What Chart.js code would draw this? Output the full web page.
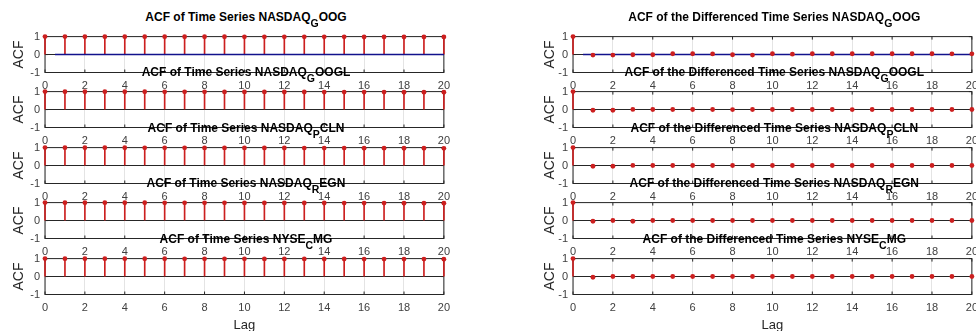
<!DOCTYPE html>
<html lang="en">
<head>
    <meta charset="UTF-8">
    <title>ACF of Time Series</title>
    <script src="https://cdn.jsdelivr.net/npm/chart.js"></script>
    <style>
        body { margin: 0; background: #fff; width: 976px; height: 331px; overflow: hidden; position: relative;
               font-family: "Liberation Sans", Arial, sans-serif; }
        canvas { position: absolute; }
        .title { position: absolute; font-weight: bold; font-size: 12px; line-height: 14px; color: #000;
                 text-align: center; white-space: nowrap; }
        .title .sub { position: relative; top: 6px; font-size: 10.5px; }
    </style>
</head>
<body>
<script>
    // lags and ticks
    var lags = [0, 1, 2, 3, 4, 5, 6, 7, 8, 9, 10, 11, 12, 13, 14, 15, 16, 17, 18, 19, 20];
    var xTicks = [0, 2, 4, 6, 8, 10, 12, 14, 16, 18, 20];
    var yTicks = [-1, 0, 1];
    var seriesNames = ['NASDAQ_GOOG', 'NASDAQ_GOOGL', 'NASDAQ_PCLN', 'NASDAQ_REGN', 'NYSE_CMG'];

    // ACF of the price series (left column)
    var acfGOOG  = [1.000, 0.999, 0.998, 0.997, 0.996, 0.995, 0.994, 0.993, 0.992, 0.991, 0.990, 0.989, 0.988, 0.987, 0.986, 0.985, 0.984, 0.983, 0.982, 0.981, 0.980];
    var acfGOOGL = [1.000, 0.998, 0.996, 0.995, 0.993, 0.991, 0.989, 0.988, 0.986, 0.984, 0.983, 0.981, 0.979, 0.978, 0.976, 0.974, 0.973, 0.971, 0.969, 0.968, 0.966];
    var acfPCLN  = [1.000, 0.998, 0.996, 0.994, 0.992, 0.990, 0.988, 0.986, 0.984, 0.982, 0.980, 0.978, 0.977, 0.975, 0.973, 0.971, 0.969, 0.967, 0.965, 0.963, 0.961];
    var acfREGN  = [1.000, 0.998, 0.997, 0.995, 0.993, 0.992, 0.990, 0.988, 0.987, 0.985, 0.983, 0.982, 0.980, 0.978, 0.977, 0.975, 0.973, 0.972, 0.970, 0.968, 0.967];
    var acfCMG   = [1.000, 0.998, 0.997, 0.995, 0.994, 0.992, 0.991, 0.989, 0.988, 0.986, 0.985, 0.983, 0.982, 0.980, 0.979, 0.977, 0.976, 0.974, 0.973, 0.971, 0.970];

    // ACF of the differenced series (right column)
    var dacfGOOG  = [1.000, -0.030, -0.030, -0.010, -0.010, 0.045, 0.045, 0.035, -0.010, -0.030, 0.045, 0.020, 0.045, 0.045, 0.045, 0.045, 0.045, 0.045, 0.045, 0.040, 0.040];
    var dacfGOOGL = [1.000, -0.040, -0.040, 0.005, 0.003, 0.004, 0.002, 0.003, 0.001, 0.004, 0.002, 0.003, 0.004, 0.002, 0.001, 0.003, 0.002, 0.004, 0.003, 0.002, 0.003];
    var dacfPCLN  = [1.000, -0.040, -0.040, 0.006, 0.004, 0.003, 0.002, 0.004, 0.003, 0.002, 0.004, 0.002, 0.003, 0.004, 0.002, 0.003, 0.002, 0.003, 0.004, 0.002, 0.003];
    var dacfREGN  = [1.000, -0.040, 0.002, -0.040, 0.004, 0.003, 0.002, 0.004, 0.003, 0.002, 0.003, 0.002, 0.004, 0.003, 0.002, 0.003, 0.004, 0.002, 0.003, 0.002, 0.003];
    var dacfCMG   = [1.000, -0.040, 0.003, 0.002, 0.004, 0.003, 0.002, 0.003, 0.004, 0.002, 0.003, 0.002, 0.003, 0.004, 0.002, 0.003, 0.002, 0.003, 0.004, 0.002, 0.003];

    // confidence bounds, only drawn on the first row
    var boundLags = [0.5, 20];
    var boundsGOOG = [0.012, -0.012];
    var boundsDiffGOOG = [0.012, -0.012];

    var leftSeries = [acfGOOG, acfGOOGL, acfPCLN, acfREGN, acfCMG];
    var rightSeries = [dacfGOOG, dacfGOOGL, dacfPCLN, dacfREGN, dacfCMG];

    // layout of the subplot grid
    var rowTops = [32.7, 88.15, 143.6, 199.05, 254.5];
    var plotH = 39.5, plotW = 402;
    var columns = [
        { left: 45, yW: 45, titlePad: 10.5, prefix: 'ACF of Time Series ' },
        { left: 573.3, yW: 40, titlePad: 9, prefix: 'ACF of the Differenced Time Series ' }
    ];

    var stemRed = '#cc1f1f';
    var tickColor = '#404040';
    var gridColor = '#e4e4e4';
    var axisColor = '#262626';

    // box round the axes plus small inward tick marks, as matlab draws them
    var boxPlugin = {
        id: 'box',
        beforeDatasetsDraw: function (chart) {
            var a = chart.chartArea, ctx = chart.ctx;
            var xs = chart.scales.x, ys = chart.scales.y;
            ctx.save();
            ctx.strokeStyle = axisColor;
            ctx.lineWidth = 1;
            ctx.strokeRect(a.left, a.top, a.right - a.left, a.bottom - a.top);
            ctx.beginPath();
            xTicks.forEach(function (v) {
                var px = xs.getPixelForValue(v);
                ctx.moveTo(px, a.bottom); ctx.lineTo(px, a.bottom - 3);
                ctx.moveTo(px, a.top); ctx.lineTo(px, a.top + 3);
            });
            yTicks.forEach(function (v) {
                var py = ys.getPixelForValue(v);
                ctx.moveTo(a.left, py); ctx.lineTo(a.left + 3, py);
                ctx.moveTo(a.right, py); ctx.lineTo(a.right - 3, py);
            });
            ctx.stroke();
            ctx.restore();
        }
    };

    function makeTitle(col, row, name) {
        var parts = name.split('_');
        var div = document.createElement('div');
        div.className = 'title';
        div.style.left = col.left + 'px';
        div.style.width = plotW + 'px';
        div.style.top = (rowTops[row] - 23) + 'px';
        div.innerHTML = col.prefix + parts[0] + '<span class="sub">' + parts[1].charAt(0) + '</span>' + parts[1].slice(1);
        return div;
    }

    function makeAcfChart(col, row, values, bounds) {
        var lastRow = row === rowTops.length - 1;
        var xH = lastRow ? 38.5 : 22.5;
        var padTop = 8;
        var canvas = document.createElement('canvas');
        canvas.width = col.yW + plotW + 10;
        canvas.height = padTop + plotH + xH;
        canvas.style.left = (col.left - col.yW) + 'px';
        canvas.style.top = (rowTops[row] - padTop) + 'px';
        document.body.appendChild(canvas);

        var points = lags.map(function (lag, i) { return { x: lag, y: values[i] }; });
        var datasets = [
            { type: 'bar', data: points, backgroundColor: stemRed, barThickness: 1, clip: false, order: 3 },
            { type: 'scatter', data: points, pointRadius: 2.4, pointBackgroundColor: stemRed,
              pointBorderWidth: 0, clip: false, order: 1 }
        ];
        if (bounds) {
            bounds.forEach(function (b) {
                datasets.push({
                    type: 'line', data: boundLags.map(function (l) { return { x: l, y: b }; }),
                    borderColor: '#12128c', borderWidth: 1.2, pointRadius: 0, clip: false, order: 2
                });
            });
        }

        new Chart(canvas.getContext('2d'), {
            type: 'scatter',
            data: { datasets: datasets },
            plugins: [boxPlugin],
            options: {
                responsive: false,
                animation: false,
                layout: { padding: { top: padTop, right: 10, left: 0, bottom: 0 } },
                plugins: { legend: { display: false }, tooltip: { enabled: false } },
                scales: {
                    x: {
                        type: 'linear', min: 0, max: 20, offset: false,
                        afterBuildTicks: function (s) { s.ticks = xTicks.map(function (v) { return { value: v }; }); },
                        afterFit: function (s) { s.height = xH; },
                        grid: { color: gridColor, drawTicks: false, offset: false },
                        border: { display: false },
                        ticks: { padding: 7, maxRotation: 0, autoSkip: false, color: tickColor,
                                 font: { family: '"Liberation Sans", Arial', size: 11 } },
                        title: { display: lastRow, text: 'Lag', color: axisColor, padding: { top: 0, bottom: 0 },
                                 font: { family: '"Liberation Sans", Arial', size: 13 } }
                    },
                    y: {
                        min: -1, max: 1,
                        afterBuildTicks: function (s) { s.ticks = yTicks.map(function (v) { return { value: v }; }); },
                        afterFit: function (s) { s.width = col.yW; },
                        grid: {
                            color: function (ctx) { return ctx.tick && ctx.tick.value === 0 ? axisColor : gridColor; },
                            drawTicks: false
                        },
                        border: { display: false },
                        ticks: { padding: 5, color: tickColor, font: { family: '"Liberation Sans", Arial', size: 11 } },
                        title: { display: true, text: 'ACF', color: axisColor, padding: { top: col.titlePad, bottom: 0 },
                                 font: { family: '"Liberation Sans", Arial', size: 14 } }
                    }
                }
            }
        });
    }

    seriesNames.forEach(function (name, row) {
        makeAcfChart(columns[0], row, leftSeries[row], row === 0 ? boundsGOOG : null);
        makeAcfChart(columns[1], row, rightSeries[row], row === 0 ? boundsDiffGOOG : null);
    });
    seriesNames.forEach(function (name, row) {
        document.body.appendChild(makeTitle(columns[0], row, name));
        document.body.appendChild(makeTitle(columns[1], row, name));
    });
</script>
</body>
</html>
